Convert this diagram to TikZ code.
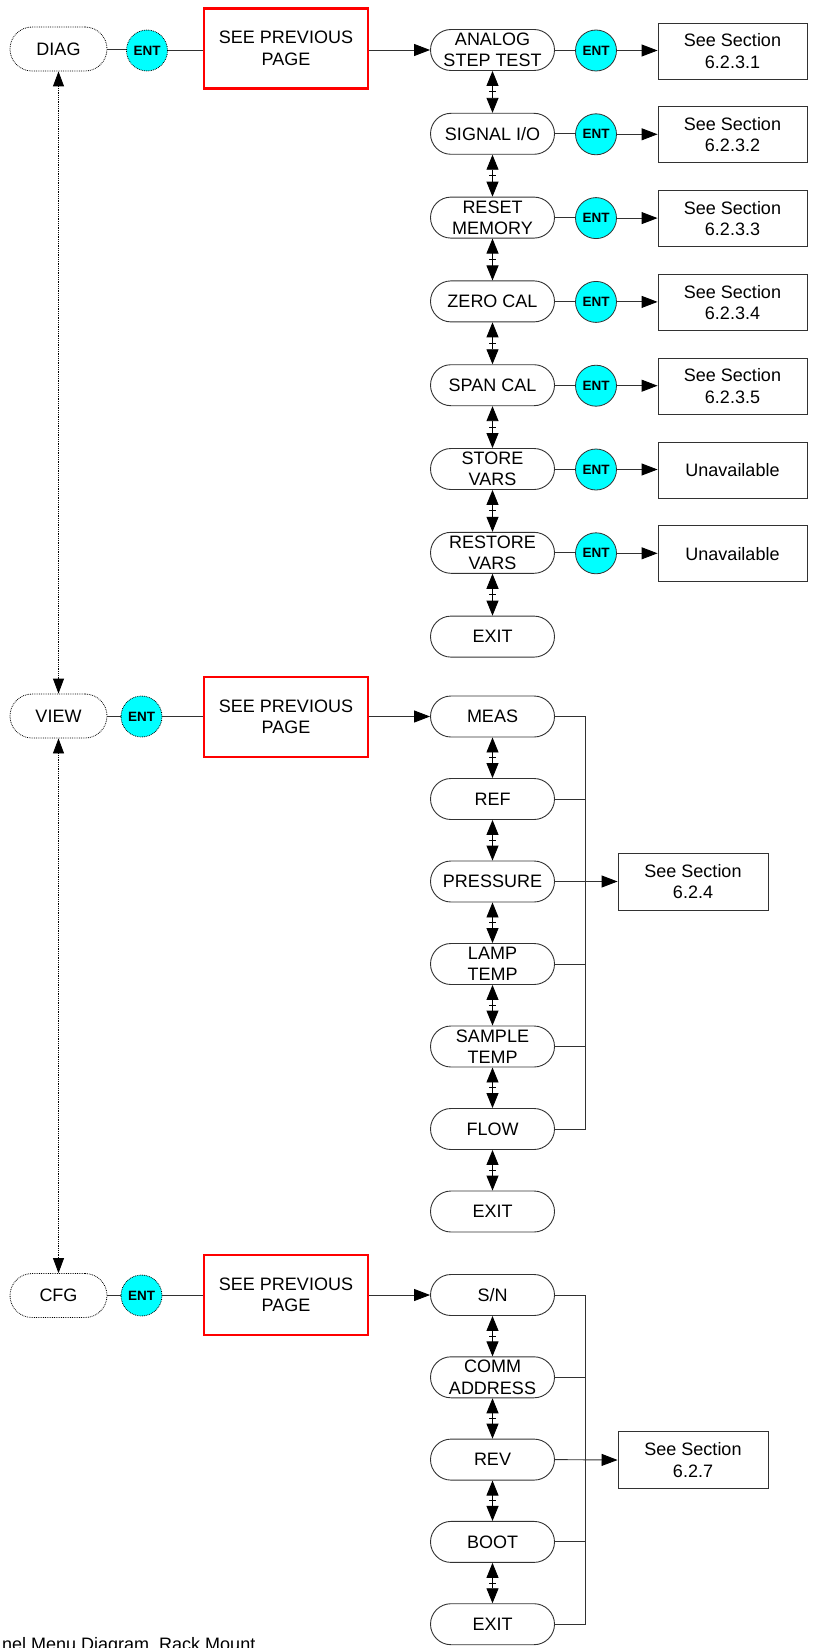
\documentclass[tikz,border=0pt]{standalone}
\usepackage{fontspec}
\setmainfont{Liberation Sans}
\usetikzlibrary{arrows.meta,calc}
\definecolor{entcyan}{RGB}{0,255,255}
\definecolor{lgray}{RGB}{50,50,50}
\begin{document}
\begin{tikzpicture}[x=1pt,y=-1pt,
  font=\fontsize{18}{21.5}\selectfont,
  pill/.style={draw=lgray, line width=0.9pt, rounded corners=20.5pt, minimum width=124pt, minimum height=41pt, inner sep=0pt, align=center},
  toppill/.style={draw=black, densely dotted, line width=0.8pt, rounded corners=22pt, minimum width=97pt, minimum height=44pt, inner sep=0pt},
  ent/.style={circle, fill=entcyan, draw=lgray, line width=0.8pt, minimum size=41pt, inner sep=0pt, font=\fontsize{13.5}{14}\selectfont\bfseries},
  entd/.style={ent, densely dotted, draw=black},
  redbox/.style={draw=red, line width=2.2pt, minimum width=164pt, minimum height=80pt, align=center, inner sep=0pt},
  secbox/.style={draw=lgray, line width=0.9pt, minimum width=149pt, minimum height=56pt, align=center, inner sep=0pt},
  ln/.style={draw=lgray, line width=0.9pt},
  tip/.style={Triangle[length=16pt,width=12pt,fill=black,color=black]},
  arr/.style={ln, -{Triangle[length=16pt,width=12pt,color=black]}},
  darr/.style={draw=black, line width=0.9pt, {Triangle[length=15pt,width=12pt]}-{Triangle[length=15pt,width=12pt]}},
  tick/.style={draw=black, line width=0.9pt},
  dotarr/.style={draw=black, line width=0.8pt, densely dotted, {Triangle[length=15pt,width=11pt]}-{Triangle[length=15pt,width=11pt]}}
]
\clip (0,0) rectangle (812,1648);
\useasboundingbox (0,0) rectangle (812,1648);

% left column
\node[toppill] (diag) at (58.5,49) {DIAG};
\node[toppill] (view) at (58.5,716) {VIEW};
\node[toppill] (cfg) at (58.5,1295.5) {CFG};
\node[entd] (ediag) at (147,50.5) {ENT};
\node[entd] (eview) at (141.5,716.5) {ENT};
\node[entd] (ecfg) at (141.5,1295.5) {ENT};
\node[redbox] (rdiag) at (286,48.5) {SEE PREVIOUS\\PAGE};
\node[redbox] (rview) at (286,717) {SEE PREVIOUS\\PAGE};
\node[redbox] (rcfg) at (286,1295) {SEE PREVIOUS\\PAGE};

\draw[ln] (diag.east) -- (diag.east -| ediag.west);
\draw[ln] (ediag.east) -- (ediag.east -| rdiag.west);
\draw[ln] (view.east) -- (view.east -| eview.west);
\draw[ln] (eview.east) -- (eview.east -| rview.west);
\draw[ln] (cfg.east) -- (cfg.east -| ecfg.west);
\draw[ln] (ecfg.east) -- (ecfg.east -| rcfg.west);
\draw[dotarr] (diag.south) -- (view.north);
\draw[dotarr] (view.south) -- (cfg.north);

% DIAG submenu
\foreach \t [count=\i] in {{ANALOG\\STEP TEST},{SIGNAL I/O},{RESET\\MEMORY},{ZERO CAL},{SPAN CAL},{STORE\\VARS},{RESTORE\\VARS},{EXIT}}
  \node[pill] (d\i) at (492.5,{50+83.8*(\i-1)}) {\t};
\foreach \t [count=\i] in {{See Section\\6.2.3.1},{See Section\\6.2.3.2},{See Section\\6.2.3.3},{See Section\\6.2.3.4},{See Section\\6.2.3.5},{Unavailable},{Unavailable}}{
  \node[ent] (de\i) at (596,{50.5+83.8*(\i-1)}) {ENT};
  \node[secbox] (ds\i) at (732.5,{51+83.8*(\i-1)}) {\t};
  \draw[ln] (d\i.east) -- (d\i.east -| de\i.west);
  \draw[arr] (de\i.east) -- (de\i.east -| ds\i.west);
}
\foreach \i [count=\j from 2] in {1,...,7}{
  \draw[darr] (d\i.south) -- (d\j.north);
  \draw[tick] ($(d\i.south)!0.5!(d\j.north)+(-3.5,0)$) -- ($(d\i.south)!0.5!(d\j.north)+(3.5,0)$);
}
\draw[arr] (rdiag.east |- d1.west) -- (d1.west);

% VIEW submenu
\foreach \t [count=\i] in {MEAS,REF,PRESSURE,{LAMP\\TEMP},{SAMPLE\\TEMP},FLOW,EXIT}
  \node[pill] (v\i) at (492.5,{716.5+82.5*(\i-1)}) {\t};
\foreach \i [count=\j from 2] in {1,...,6}{
  \draw[darr] (v\i.south) -- (v\j.north);
  \draw[tick] ($(v\i.south)!0.5!(v\j.north)+(-3.5,0)$) -- ($(v\i.south)!0.5!(v\j.north)+(3.5,0)$);
}
\draw[arr] (rview.east |- v1.west) -- (v1.west);
\coordinate (vbus) at (585,716.5);
\node[secbox, minimum width=150pt, minimum height=57pt] (s624) at (693,881.5) {See Section\\6.2.4};
\draw[ln] (v1.east) -- (v1.east -| vbus) -- (v6.east -| vbus) -- (v6.east);
\foreach \i in {2,4,5}
  \draw[ln] (v\i.east) -- (v\i.east -| vbus);
\draw[arr] (v3.east) -- (s624.west);

% CFG submenu
\foreach \t [count=\i] in {S/N,{COMM\\ADDRESS},REV,BOOT,EXIT}
  \node[pill] (c\i) at (492.5,{1295+82.3*(\i-1)}) {\t};
\foreach \i [count=\j from 2] in {1,...,4}{
  \draw[darr] (c\i.south) -- (c\j.north);
  \draw[tick] ($(c\i.south)!0.5!(c\j.north)+(-3.5,0)$) -- ($(c\i.south)!0.5!(c\j.north)+(3.5,0)$);
}
\draw[arr] (rcfg.east |- c1.west) -- (c1.west);
\coordinate (cbus) at (585,1295);
\node[secbox, minimum width=150pt, minimum height=57pt] (s627) at (693,1460) {See Section\\6.2.7};
\draw[ln] (c1.east) -- (c1.east -| cbus) -- (c5.east -| cbus) -- (c5.east);
\foreach \i in {2,4}
  \draw[ln] (c\i.east) -- (c\i.east -| cbus);
\draw[arr] (c3.east) -- (s627.west);

% caption
\node[anchor=base west, inner sep=0pt] (cap) at (2,1650) {nel Menu Diagram, Rack Mount};
\end{tikzpicture}
\end{document}
